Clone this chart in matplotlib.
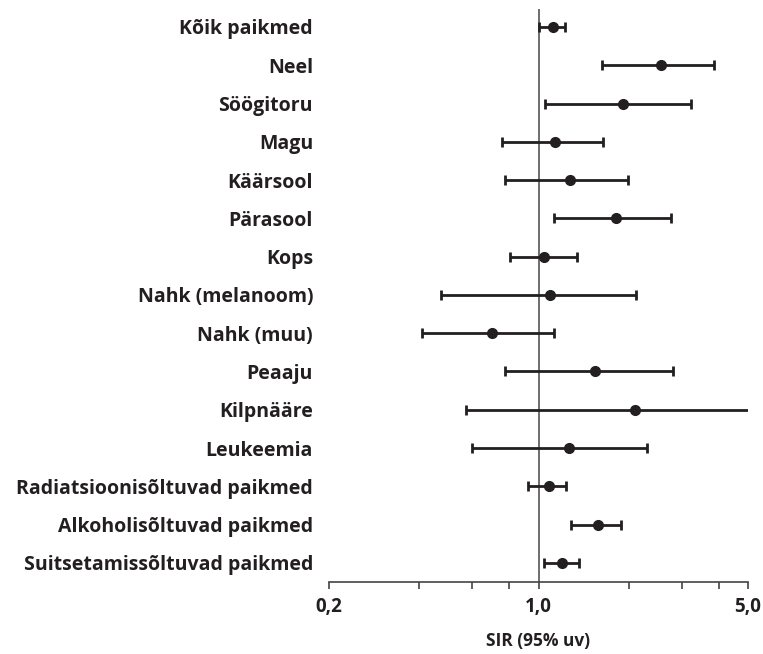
import matplotlib
matplotlib.use("Agg")
import matplotlib.pyplot as plt
import numpy as np
from matplotlib.ticker import FixedLocator, NullFormatter

categories = ["Kõik paikmed", "Neel", "Söögitoru", "Magu", "Käärsool", "Pärasool",
              "Kops", "Nahk (melanoom)", "Nahk (muu)", "Peaaju", "Kilpnääre",
              "Leukeemia", "Radiatsioonisõltuvad paikmed", "Alkoholisõltuvad paikmed",
              "Suitsetamissõltuvad paikmed"]
sir = [1.115, 2.57, 1.91, 1.135, 1.27, 1.82, 1.04, 1.09, 0.70, 1.54, 2.10, 1.26, 1.085, 1.58, 1.20]
lower = [1.00, 1.63, 1.05, 0.756, 0.771, 1.13, 0.802, 0.474, 0.409, 0.773, 0.572, 0.60, 0.923, 1.287, 1.046]
upper = [1.229, 3.85, 3.22, 1.64, 1.99, 2.76, 1.348, 2.12, 1.124, 2.81, 6.0, 2.30, 1.233, 1.885, 1.362]
major_ticks = [0.2, 1.0, 5.0]
major_labels = ["0,2", "1,0", "5,0"]
minor_ticks = [0.4, 0.6, 0.8, 2, 3, 4]
xlabel = "SIR (95% uv)"

FONT = "Open Sans"
TXT = "#231f20"

fig = plt.figure(figsize=(7.63, 6.54), dpi=100)
ax = fig.add_axes([329/763, 1 - 582/654, (748 - 329)/763, (582 - 9)/654])

y = np.arange(len(categories))
sir_a = np.array(sir)
err = [sir_a - np.array(lower), np.array(upper) - sir_a]

ax.axvline(1.0, color="#555555", lw=1.2, zorder=1)
ax.errorbar(sir_a, y, xerr=err, fmt="o", color=TXT, ecolor=TXT, elinewidth=2,
            capsize=3.5, capthick=2, markersize=7, zorder=3)

ax.set_xscale("log")
ax.set_xlim(0.2, 5.0)
ax.set_ylim(len(categories) - 0.5, -0.47)

ax.set_xticks(major_ticks)
ax.set_xticklabels(major_labels)
ax.xaxis.set_minor_locator(FixedLocator(minor_ticks))
ax.xaxis.set_minor_formatter(NullFormatter())
ax.tick_params(axis="x", which="both", direction="out", length=5, width=1.2,
               color="#444444", pad=6)
for lab in ax.get_xticklabels():
    lab.set_fontfamily(FONT)
    lab.set_fontweight("bold")
    lab.set_fontsize(13.5)
    lab.set_color(TXT)

ax.set_yticks(y)
ax.set_yticklabels(categories)
ax.tick_params(axis="y", length=0, pad=11.5)
for lab in ax.get_yticklabels():
    lab.set_fontfamily(FONT)
    lab.set_fontweight("bold")
    lab.set_fontsize(14)
    lab.set_color(TXT)

for s in ["top", "right", "left"]:
    ax.spines[s].set_visible(False)
ax.spines["bottom"].set_color("#444444")
ax.spines["bottom"].set_linewidth(1.2)

ax.set_xlabel(xlabel, fontfamily=FONT, fontweight="bold", fontsize=12.5, color=TXT, labelpad=10.5)

fig.savefig("out.png", dpi=100)
